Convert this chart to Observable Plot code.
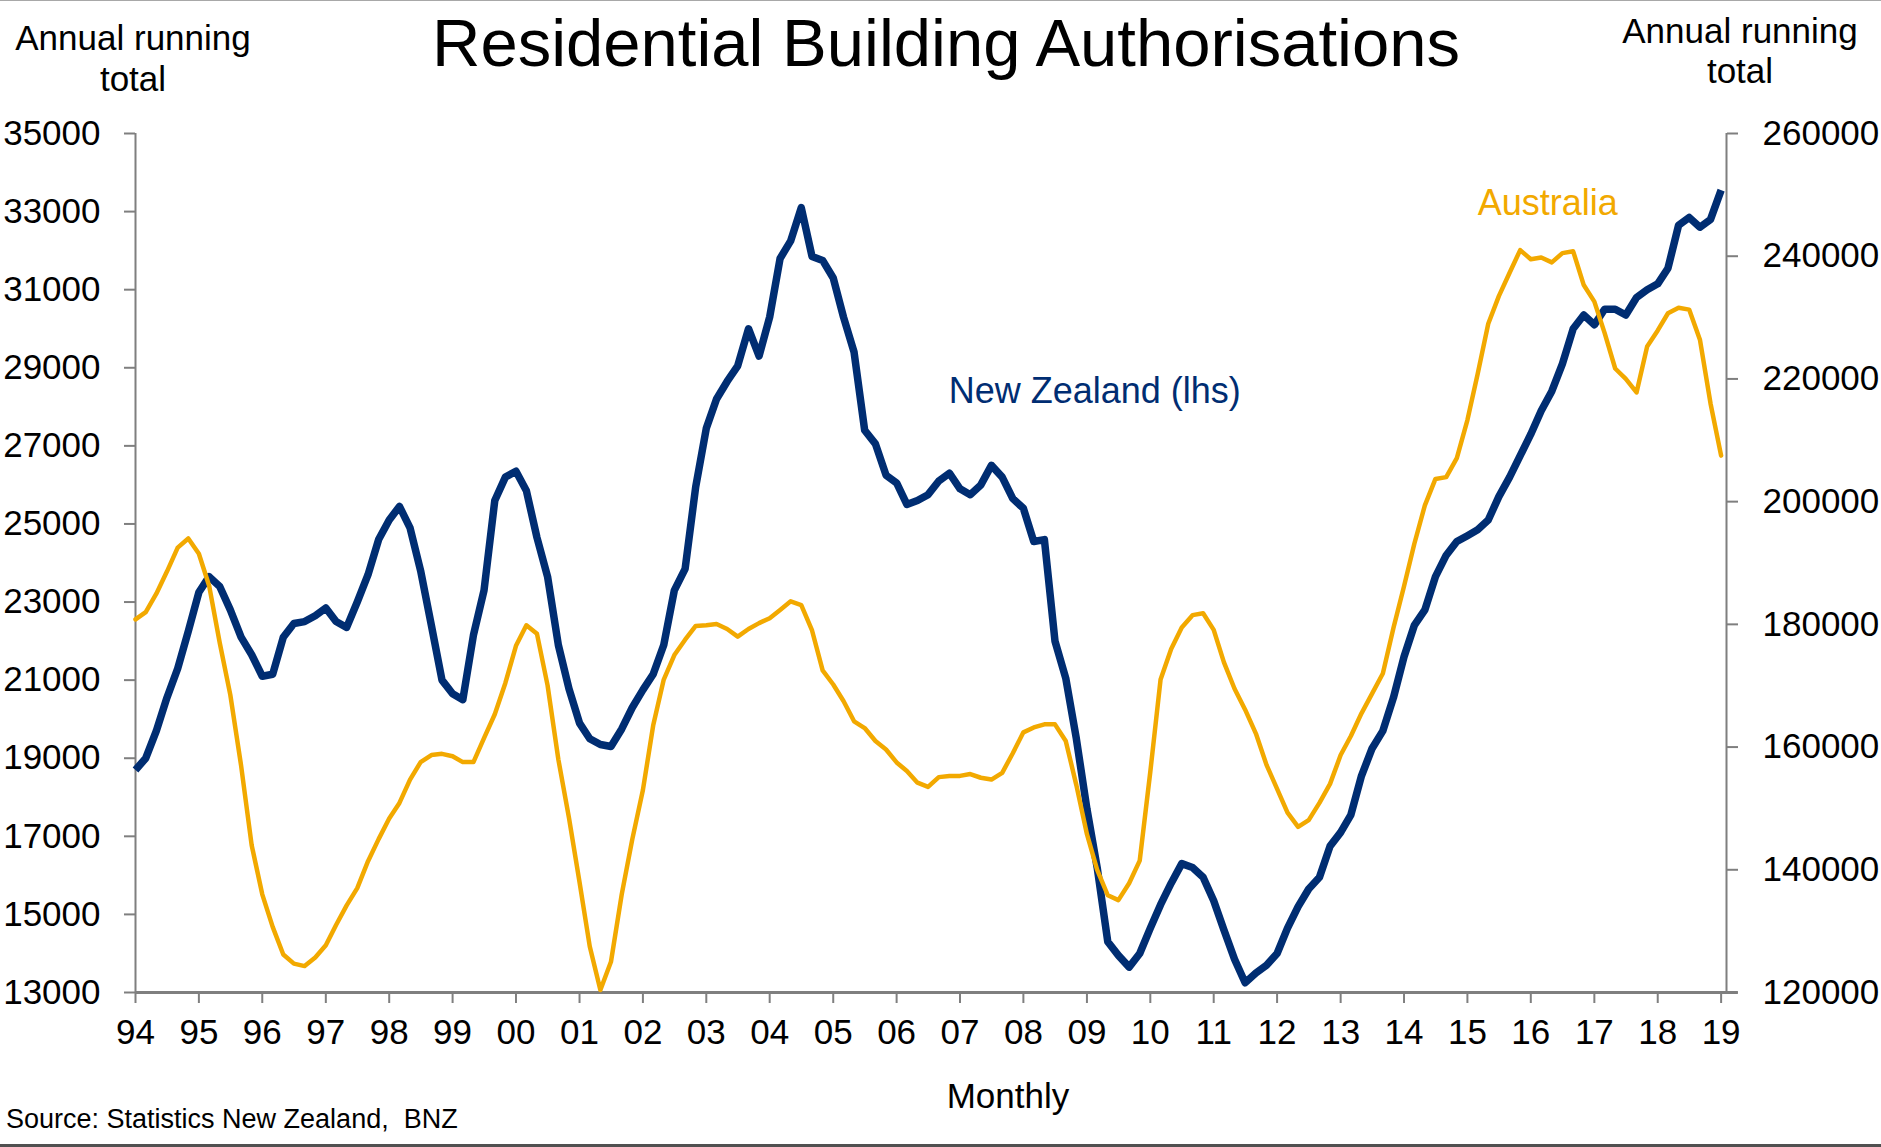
<!DOCTYPE html>
<html>
<head>
<meta charset="utf-8">
<script src="https://cdn.jsdelivr.net/npm/d3@7"></script>
<script src="https://cdn.jsdelivr.net/npm/@observablehq/plot@0.6"></script>
<style>
html,body{margin:0;padding:0;background:#fff;}
#chart{position:relative;width:1881px;height:1147px;overflow:hidden;background:#fff;font-family:"Liberation Sans",Arial,Helvetica,sans-serif;color:#000;}
.t{position:absolute;white-space:nowrap;}
#title{left:0;width:1892px;text-align:center;top:9px;font-size:67px;line-height:1;}
#lhsLabel{left:0;width:266px;text-align:center;top:17px;font-size:35px;line-height:41px;}
#rhsLabel{left:1595px;width:290px;text-align:center;top:11px;font-size:35px;line-height:40px;}
#xLabel{left:908px;width:200px;text-align:center;top:1078px;font-size:35px;line-height:1;}
#source{left:6px;top:1106px;font-size:27px;line-height:1;}
#plots{position:absolute;left:0;top:100px;width:1881px;height:960px;}
#plots svg{position:absolute;left:0;top:0;}
#topRule{position:absolute;left:0;top:0;width:1881px;height:1px;background:#a8a8a8;}
#bottomRule{position:absolute;left:0;bottom:0;width:1881px;height:3px;background:#505050;}
</style>
</head>
<body>
<div id="chart">
  <div id="topRule"></div>
  <div id="title" class="t">Residential Building Authorisations</div>
  <div id="lhsLabel" class="t">Annual running<br>total</div>
  <div id="rhsLabel" class="t">Annual running<br>total</div>
  <div id="plots"></div>
  <div id="xLabel" class="t">Monthly</div>
  <div id="source" class="t">Source: Statistics New Zealand,&nbsp; BNZ</div>
  <div id="bottomRule"></div>
</div>
<script>
// ---- data (annual running totals, every second month, Jan 1994 – Jan 2019) ----
const seriesStart = new Date(Date.UTC(1994, 0, 1));
const seriesEnd = new Date(Date.UTC(2019, 0, 1));

const nzValues = [
  18700, 19000, 19700, 20550, 21300, 22250, 23250, 23650, 23400, 22800, 22100, 21650,
  21100, 21150, 22100, 22450, 22500, 22650, 22850, 22500, 22350, 23000, 23700, 24600,
  25100, 25450, 24900, 23800, 22400, 21000, 20650, 20500, 22150, 23300, 25600, 26200,
  26350, 25850, 24650, 23650, 21900, 20780, 19900, 19500, 19350, 19300, 19750, 20300,
  20750, 21150, 21900, 23300, 23850, 25950, 27450, 28200, 28650, 29050, 30000, 29300,
  30300, 31800, 32250, 33100, 31850, 31750, 31300, 30300, 29400, 27400, 27050, 26250,
  26050, 25500, 25600, 25750, 26100, 26300, 25900, 25750, 26000, 26500, 26200, 25650,
  25400, 24550, 24600, 22000, 21050, 19500, 17700, 16200, 14300, 13950, 13650, 14000,
  14650, 15250, 15800, 16300, 16200, 15950, 15350, 14600, 13850, 13250, 13500, 13700,
  14000, 14650, 15200, 15650, 15950, 16750, 17100, 17550, 18550, 19250, 19700, 20550,
  21600, 22400, 22800, 23650, 24200, 24550, 24700, 24850, 25100, 25700, 26200, 26750,
  27300, 27900, 28400, 29100, 30000, 30350, 30100, 30500, 30500, 30350, 30800, 31000,
  31150, 31550, 32650, 32850, 32600, 32800, 33550
];

const auValues = [
  180800, 182000, 185000, 188600, 192500, 194000, 191500, 186300, 177000, 168500, 157000, 144000,
  136000, 130700, 126200, 124700, 124300, 125700, 127700, 131000, 134200, 137000, 141400, 145000,
  148350, 150900, 154700, 157550, 158700, 158900, 158500, 157550, 157550, 161450, 165350, 170450,
  176500, 179850, 178450, 170050, 158000, 148500, 138000, 127500, 120400, 125000, 136000, 145000,
  153000, 163500, 171000, 175000, 177500, 179750, 179850, 180050, 179250, 178000, 179250, 180200,
  181000, 182350, 183750, 183150, 179000, 172500, 170200, 167500, 164200, 163100, 161000, 159600,
  157500, 156100, 154200, 153500, 155100, 155300, 155300, 155600, 155000, 154700, 155800, 159000,
  162400, 163200, 163700, 163700, 161000, 153800, 145800, 140000, 135850, 135050, 137800, 141500,
  156000, 171000, 176000, 179500, 181500, 181800, 179100, 173800, 169500, 166100, 162200, 157100,
  153200, 149300, 147000, 148100, 150900, 154000, 158700, 161800, 165500, 168700, 172000, 179400,
  186200, 193100, 199400, 203700, 204000, 207100, 213300, 220800, 229000, 233500, 237300, 241000,
  239500, 239800, 239000, 240500, 240800, 235300, 232600, 227500, 221700, 220000, 217800, 225300,
  227900, 230700, 231600, 231300, 226400, 216000, 207500
];

const nzTicks = [13000, 15000, 17000, 19000, 21000, 23000, 25000, 27000, 29000, 31000, 33000, 35000];
const auTicks = [120000, 140000, 160000, 180000, 200000, 220000, 240000, 260000];
const xTickLabels = ["94","95","96","97","98","99","00","01","02","03","04","05","06",
                     "07","08","09","10","11","12","13","14","15","16","17","18","19"];

const nzName = "New Zealand (lhs)";
const auName = "Australia";
const nzLabelAt = {date: new Date(Date.UTC(2009, 1, 15)), value: 28400};
const auLabelAt = {date: new Date(Date.UTC(2016, 3, 8)), value: 248600};

// ---- styling ----
const nzColor = "#002D72";
const auColor = "#F2A900";
const axisGrey = "#7f7f7f";
const fontFamily = "Liberation Sans, Arial, Helvetica, sans-serif";

// ---- build ----
const months = d3.utcMonth.every(2).range(seriesStart, new Date(+seriesEnd + 86400000));
const nz = months.map((date, i) => ({date, value: nzValues[i]}));
const au = months.map((date, i) => ({date, value: auValues[i]}));
const yearTicks = d3.utcYear.range(seriesStart, new Date(+seriesEnd + 86400000));
const yearLabel = new Map(yearTicks.map((d, i) => [+d, xTickLabels[i]]));

const xDomain = [seriesStart, new Date(Date.UTC(2019, 1, 1))];
const axisOverhang = new Date(Date.UTC(2019, 3, 10));

const frame = {width: 1881, height: 960, marginTop: 33, marginBottom: 68, marginLeft: 135, marginRight: 155};
const style = {fontFamily, fontSize: "35px", color: "#000", background: "transparent", overflow: "visible"};

const left = Plot.plot({
  ...frame, style,
  x: {type: "utc", domain: xDomain},
  y: {domain: [13000, 35000]},
  marks: [
    Plot.axisY(nzTicks, {anchor: "left", tickSize: 11, tickPadding: 24, tickFormat: d3.format("d"),
      stroke: axisGrey, strokeWidth: 2, label: null, fontSize: 35, fill: "#000"}),
    Plot.axisX(yearTicks, {anchor: "bottom", tickSize: 11, tickPadding: 16, tickFormat: d => yearLabel.get(+d),
      stroke: axisGrey, strokeWidth: 2, label: null, fontSize: 35, fill: "#000"}),
    Plot.ruleX([xDomain[0]], {stroke: axisGrey, strokeWidth: 2}),
    Plot.lineY(nz, {x: "date", y: "value", stroke: nzColor, strokeWidth: 7.5, strokeLinejoin: "round", strokeLinecap: "butt"}),
    Plot.ruleY([13000], {x1: xDomain[0], x2: axisOverhang, stroke: axisGrey, strokeWidth: 3}),
    Plot.text([nzLabelAt], {x: "date", y: "value", text: () => nzName, fill: nzColor, fontSize: 36})
  ]
});

const right = Plot.plot({
  ...frame, style,
  x: {type: "utc", domain: xDomain, axis: null},
  y: {domain: [120000, 260000]},
  marks: [
    Plot.axisY(auTicks, {anchor: "right", tickSize: 11, tickPadding: 25, tickFormat: d3.format("d"),
      stroke: axisGrey, strokeWidth: 2, label: null, fontSize: 35, fill: "#000"}),
    Plot.ruleX([xDomain[1]], {stroke: axisGrey, strokeWidth: 2}),
    Plot.lineY(au, {x: "date", y: "value", stroke: auColor, strokeWidth: 4.5, strokeLinejoin: "round"}),
    Plot.text([auLabelAt], {x: "date", y: "value", text: () => auName, fill: auColor, fontSize: 36})
  ]
});

const host = document.getElementById("plots");
host.append(left, right);
</script>
</body>
</html>
